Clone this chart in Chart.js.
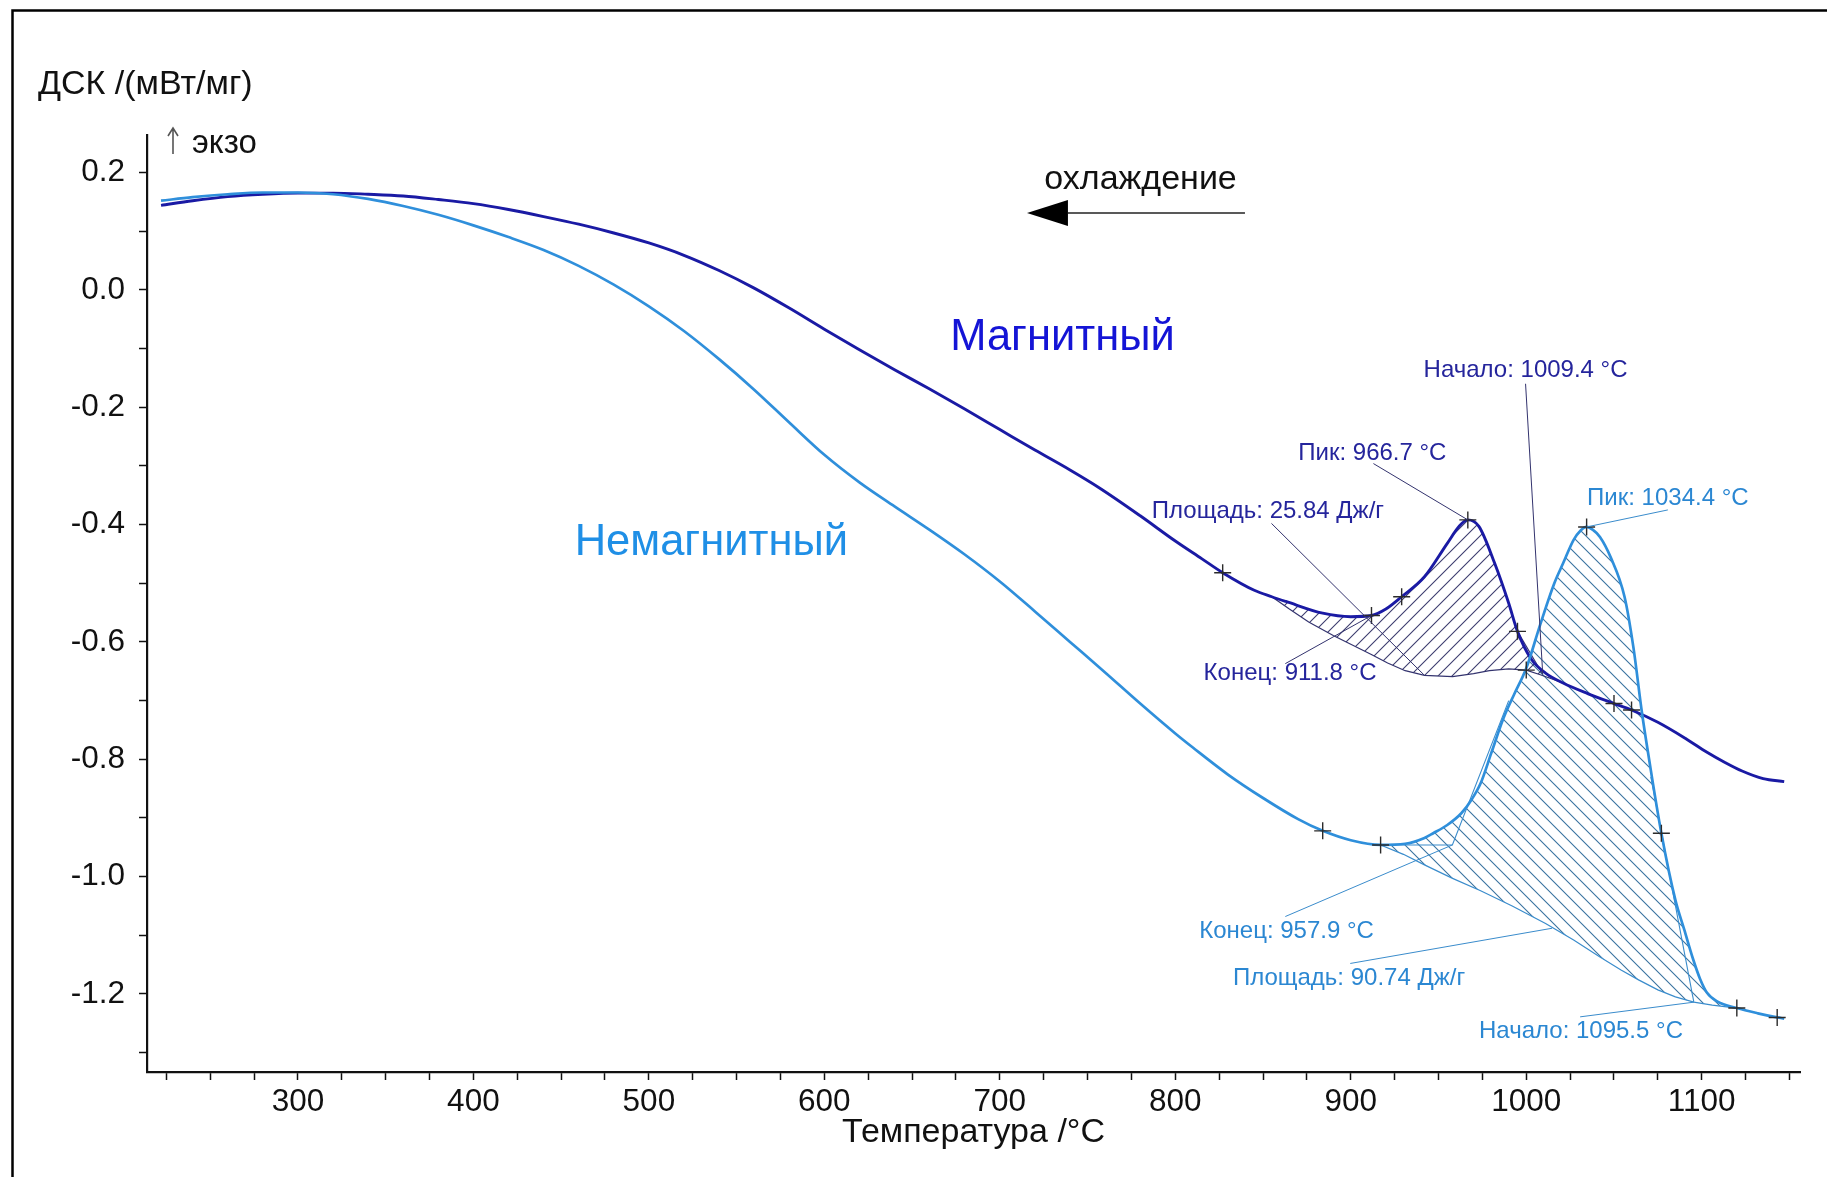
<!DOCTYPE html>
<html>
<head>
<meta charset="utf-8">
<script src="https://cdn.jsdelivr.net/npm/chart.js@4.4.1/dist/chart.umd.min.js"></script>
<style>
  html, body { margin: 0; padding: 0; background: #fff; overflow: hidden; }
  #wrap { position: relative; width: 1827px; height: 1177px; }
</style>
</head>
<body>
<div id="wrap"><canvas id="dsc"></canvas></div>
<script>
// DSC cooling runs: temperature (°C) vs heat flow (mW/mg)
const magT = [222,240,260,280,300,320,340,360,380,400,420,440,460,480,500,520,540,560,580,600,620,640,660,680,700,720,740,757,780,800,815,827,845,855,863,884,900,911.8,920,929,942,955,962,966.7,973,982,990,995,1003,1011,1021,1035,1050,1060,1075,1091,1103,1113,1123,1135,1147];
const magV = [0.144,0.152,0.159,0.163,0.165,0.165,0.163,0.160,0.154,0.147,0.137,0.125,0.112,0.097,0.080,0.059,0.033,0.003,-0.031,-0.067,-0.102,-0.136,-0.169,-0.203,-0.238,-0.273,-0.307,-0.338,-0.385,-0.428,-0.458,-0.482,-0.512,-0.523,-0.531,-0.551,-0.557,-0.555,-0.544,-0.523,-0.489,-0.432,-0.402,-0.392,-0.403,-0.466,-0.534,-0.582,-0.630,-0.653,-0.670,-0.688,-0.705,-0.716,-0.737,-0.765,-0.788,-0.805,-0.820,-0.833,-0.838];

const nonT = [222,240,260,280,300,320,340,360,380,400,420,440,460,480,500,520,540,560,580,600,620,640,660,680,700,720,740,760,780,800,810,830,850,870,884,900,917,931,942,947,955,963,969,974,980,987,993,1000,1008,1016,1021,1027,1031,1034.4,1038,1042,1048,1056,1061,1066,1070,1077,1085,1090,1095,1099,1103,1109,1120,1132,1143,1147];
const nonV = [0.152,0.158,0.163,0.166,0.166,0.163,0.155,0.143,0.128,0.110,0.090,0.068,0.041,0.009,-0.028,-0.070,-0.118,-0.170,-0.226,-0.281,-0.328,-0.369,-0.409,-0.451,-0.497,-0.548,-0.600,-0.652,-0.705,-0.756,-0.780,-0.826,-0.866,-0.902,-0.922,-0.938,-0.946,-0.944,-0.934,-0.926,-0.912,-0.892,-0.868,-0.841,-0.790,-0.730,-0.690,-0.645,-0.570,-0.500,-0.466,-0.426,-0.410,-0.404,-0.409,-0.421,-0.455,-0.523,-0.608,-0.722,-0.800,-0.926,-1.040,-1.090,-1.140,-1.174,-1.198,-1.213,-1.224,-1.233,-1.240,-1.242];

// integration baselines under the peaks
const magBaseT = [855,865,876,890,902,912,921,931,942,958,970,979,990,1000,1008,1021];
const magBaseV = [-0.523,-0.544,-0.566,-0.589,-0.607,-0.622,-0.636,-0.649,-0.657,-0.659,-0.654,-0.649,-0.646,-0.648,-0.656,-0.670];
const nonBaseT = [917,930,942,958,974,992,1011,1027,1042,1054,1064,1075,1085,1095.5,1106,1120];
const nonBaseV = [-0.946,-0.962,-0.980,-1.003,-1.024,-1.050,-1.080,-1.108,-1.137,-1.159,-1.176,-1.193,-1.205,-1.214,-1.219,-1.224];

// evaluation results
const magPeak = 966.7, magOnset = 1009.4, magEnd = 911.8, magArea = 25.84;
const nonPeak = 1034.4, nonOnset = 1095.5, nonEnd = 957.9, nonArea = 90.74;

// tangent constructions
const nonEndLineT = [917, nonEnd, 990];
const nonEndLineV = [-0.946, -0.946, -0.700];
const nonOnsetLineT = [1071, nonOnset];
const nonOnsetLineV = [-0.830, -1.214];
const magOnsetLineT = [995, magOnset];
const magOnsetLineV = [-0.582, -0.655];

// evaluated points (+)
const markT = [827, magEnd, 929, magPeak, 995, 1000, 1050, 1060, 884, 917, nonPeak, 1077, 1120, 1143];
const markV = [-0.482, -0.555, -0.523, -0.392, -0.582, -0.648, -0.705, -0.716, -0.922, -0.946, -0.404, -0.926, -1.224, -1.240];

// axis ranges
const X_MIN = 214, X_MAX = 1156, Y_MIN = -1.333, Y_MAX = 0.264;

const FONT = "'Liberation Sans', Arial, sans-serif";
const MAG_LINE = '#1a1aa4', NON_LINE = '#2f8fdb';
const MAG_TXT = '#25259c', NON_TXT = '#2b87d2';
const MAG_LEAD = '#33336e', NON_LEAD = '#3a8ccc';

const pts = (xs, ys) => xs.map((x, i) => ({ x, y: ys[i] }));
const between = (xs, ys, a, b) => pts(xs, ys).filter(p => p.x >= a && p.x <= b);

function hatch(color, rising) {
  const s = 14;
  const c = document.createElement('canvas');
  c.width = s; c.height = s;
  const g = c.getContext('2d');
  g.strokeStyle = color;
  g.lineWidth = 1.1;
  g.beginPath();
  if (rising) {
    g.moveTo(0, s); g.lineTo(s, 0);
    g.moveTo(-s / 2, s / 2); g.lineTo(s / 2, -s / 2);
    g.moveTo(s / 2, s * 1.5); g.lineTo(s * 1.5, s / 2);
  } else {
    g.moveTo(0, 0); g.lineTo(s, s);
    g.moveTo(-s / 2, s / 2); g.lineTo(s / 2, s * 1.5);
    g.moveTo(s / 2, -s / 2); g.lineTo(s * 1.5, s / 2);
  }
  g.stroke();
  return g.createPattern(c, 'repeat');
}

const thin = (data, color, w) => ({
  data, borderColor: color, borderWidth: w, pointRadius: 0, fill: false, order: 8
});

const datasets = [
  thin(pts(magBaseT, magBaseV), MAG_LEAD, 1.2),                        // 0
  thin(pts(nonBaseT, nonBaseV), NON_LEAD, 1.2),                        // 1
  { data: between(magT, magV, magBaseT[0], magBaseT[magBaseT.length - 1]),
    borderWidth: 0, pointRadius: 0, fill: { target: 0 },
    backgroundColor: hatch('rgba(40,40,95,0.9)', true),
    cubicInterpolationMode: 'monotone', order: 10 },                    // 2
  { data: between(nonT, nonV, nonBaseT[0], nonBaseT[nonBaseT.length - 1]),
    borderWidth: 0, pointRadius: 0, fill: { target: 1 },
    backgroundColor: hatch('rgba(35,100,150,0.9)', false),
    cubicInterpolationMode: 'monotone', order: 10 },                    // 3
  thin(pts(nonEndLineT, nonEndLineV), NON_LEAD, 1.1),
  thin(pts(nonOnsetLineT, nonOnsetLineV), NON_LEAD, 1.1),
  thin(pts(magOnsetLineT, magOnsetLineV), MAG_LEAD, 1.1),
  { label: 'Магнитный', data: pts(magT, magV), borderColor: MAG_LINE, borderWidth: 2.9,
    pointRadius: 0, fill: false, cubicInterpolationMode: 'monotone', order: 3 },
  { label: 'Немагнитный', data: pts(nonT, nonV), borderColor: NON_LINE, borderWidth: 2.7,
    pointRadius: 0, fill: false, cubicInterpolationMode: 'monotone', order: 2 },
  { data: pts(markT, markV), showLine: false, pointStyle: 'cross', pointRadius: 8.5,
    pointBorderColor: '#2b2b2b', pointBorderWidth: 1.4, order: 1 }
];

// text callouts with leader lines, in data units
const notes = [
  { text: `Начало: ${magOnset} °C`, c: MAG_TXT, lc: MAG_LEAD, at: [999.6, -0.137], from: [999.6, -0.160], to: [magOnset, -0.655] },
  { text: `Пик: ${magPeak} °C`, c: MAG_TXT, lc: MAG_LEAD, at: [912.3, -0.278], from: [912.9, -0.296], to: [magPeak, -0.392] },
  { text: `Площадь: ${magArea} Дж/г`, c: MAG_TXT, lc: MAG_LEAD, at: [852.8, -0.378], from: [854.8, -0.398], to: [942, -0.657] },
  { text: `Конец: ${magEnd} °C`, c: MAG_TXT, lc: MAG_LEAD, at: [865.4, -0.653], from: [862.7, -0.637], to: [magEnd, -0.555] },
  { text: `Пик: ${nonPeak} °C`, c: NON_TXT, lc: NON_LEAD, at: [1080.7, -0.356], from: [1080.7, -0.375], to: [nonPeak, -0.404] },
  { text: `Конец: ${nonEnd} °C`, c: NON_TXT, lc: NON_LEAD, at: [863.4, -1.094], from: [862.7, -1.068], to: [nonEnd, -0.946] },
  { text: `Площадь: ${nonArea} Дж/г`, c: NON_TXT, lc: NON_LEAD, at: [899, -1.173], from: [899.7, -1.148], to: [1014.7, -1.088] },
  { text: `Начало: ${nonOnset} °C`, c: NON_TXT, lc: NON_LEAD, at: [1031.2, -1.264], from: [1030.7, -1.239], to: [nonOnset, -1.214] }
];

const decor = {
  id: 'decor',
  beforeDraw(chart) {
    const { ctx, width, height } = chart;
    ctx.save();
    ctx.fillStyle = '#fff';
    ctx.fillRect(0, 0, width, height);
    ctx.strokeStyle = '#000';
    ctx.lineWidth = 2.5;
    ctx.beginPath();
    ctx.moveTo(12.5, height);
    ctx.lineTo(12.5, 10.5);
    ctx.lineTo(width, 10.5);
    ctx.stroke();
    ctx.restore();
  },
  afterDraw(chart) {
    const { ctx, chartArea: ca } = chart;
    const sx = chart.scales.x, sy = chart.scales.y;
    const X = v => sx.getPixelForValue(v), Y = v => sy.getPixelForValue(v);
    ctx.save();

    // callouts
    ctx.lineWidth = 1;
    notes.forEach(n => {
      ctx.strokeStyle = n.lc;
      ctx.beginPath();
      ctx.moveTo(X(n.from[0]), Y(n.from[1]));
      ctx.lineTo(X(n.to[0]), Y(n.to[1]));
      ctx.stroke();
    });
    ctx.font = `24px ${FONT}`;
    ctx.textAlign = 'center';
    ctx.textBaseline = 'middle';
    notes.forEach(n => {
      ctx.fillStyle = n.c;
      ctx.fillText(n.text, X(n.at[0]), Y(n.at[1]));
    });

    // sample names
    ctx.font = `43.5px ${FONT}`;
    ctx.textBaseline = 'alphabetic';
    ctx.fillStyle = '#1414d6';
    ctx.fillText('Магнитный', X(735.7), Y(-0.1025));
    ctx.fillStyle = '#1f8fe6';
    ctx.fillText('Немагнитный', X(535.6), Y(-0.451));

    // cooling direction
    ctx.fillStyle = '#111';
    ctx.font = `34px ${FONT}`;
    ctx.fillText('охлаждение', X(780.2), Y(0.1715));
    const ay = Y(0.131);
    ctx.strokeStyle = '#222';
    ctx.lineWidth = 1.5;
    ctx.beginPath();
    ctx.moveTo(X(839.7), ay);
    ctx.lineTo(X(738.8), ay);
    ctx.stroke();
    ctx.fillStyle = '#000';
    ctx.beginPath();
    ctx.moveTo(X(715.5), ay);
    ctx.lineTo(X(738.8), ay - 13);
    ctx.lineTo(X(738.8), ay + 13);
    ctx.closePath();
    ctx.fill();

    // y-axis caption
    ctx.fillStyle = '#111';
    ctx.textAlign = 'left';
    ctx.textBaseline = 'middle';
    ctx.font = `34px ${FONT}`;
    ctx.fillText('ДСК /(мВт/мг)', ca.left - 109, ca.top - 50);

    // exo direction marker
    const ax = ca.left + 26;
    ctx.strokeStyle = '#555';
    ctx.lineWidth = 1.6;
    ctx.beginPath();
    ctx.moveTo(ax, ca.top + 19);
    ctx.lineTo(ax, ca.top - 7);
    ctx.moveTo(ax - 5, ca.top + 1);
    ctx.lineTo(ax, ca.top - 7);
    ctx.lineTo(ax + 5, ca.top + 1);
    ctx.stroke();
    ctx.font = `33px ${FONT}`;
    ctx.fillText('экзо', ca.left + 45, ca.top + 9);
    ctx.restore();
  }
};

new Chart(document.getElementById('dsc'), {
  type: 'line',
  data: { datasets },
  plugins: [decor],
  options: {
    responsive: true,
    maintainAspectRatio: false,
    animation: false,
    layout: { padding: { left: 0, top: 135, right: 27, bottom: 0 } },
    plugins: {
      legend: { display: false },
      tooltip: { enabled: false },
      filler: { propagate: false }
    },
    scales: {
      x: {
        type: 'linear', min: X_MIN, max: X_MAX,
        afterFit(s) { s.height = 105; },
        border: { display: true, color: '#111', width: 2.2 },
        grid: { display: true, drawOnChartArea: false, drawTicks: true, tickLength: 8, tickColor: '#111', tickWidth: 1.5 },
        ticks: {
          stepSize: 25, includeBounds: false, autoSkip: false, maxRotation: 0, minRotation: 0,
          padding: 3, color: '#111', font: { family: FONT, size: 31.5 },
          callback: v => (Math.round(v) % 100 === 0 ? String(Math.round(v)) : '')
        },
        title: { display: true, text: 'Температура /°C', color: '#111',
                 font: { family: FONT, size: 34 }, padding: { top: 0, bottom: 24 } }
      },
      y: {
        type: 'linear', min: Y_MIN, max: Y_MAX,
        afterFit(s) { s.width = 147; },
        border: { display: true, color: '#111', width: 2.2 },
        grid: { display: true, drawOnChartArea: false, drawTicks: true, tickLength: 8, tickColor: '#111', tickWidth: 1.5 },
        ticks: {
          stepSize: 0.1, includeBounds: false, padding: 14, color: '#111',
          font: { family: FONT, size: 31.5 },
          callback: v => { const r = Math.round(v * 10); return r % 2 === 0 ? (r / 10).toFixed(1) : ''; }
        }
      }
    }
  }
});
</script>
</body>
</html>
